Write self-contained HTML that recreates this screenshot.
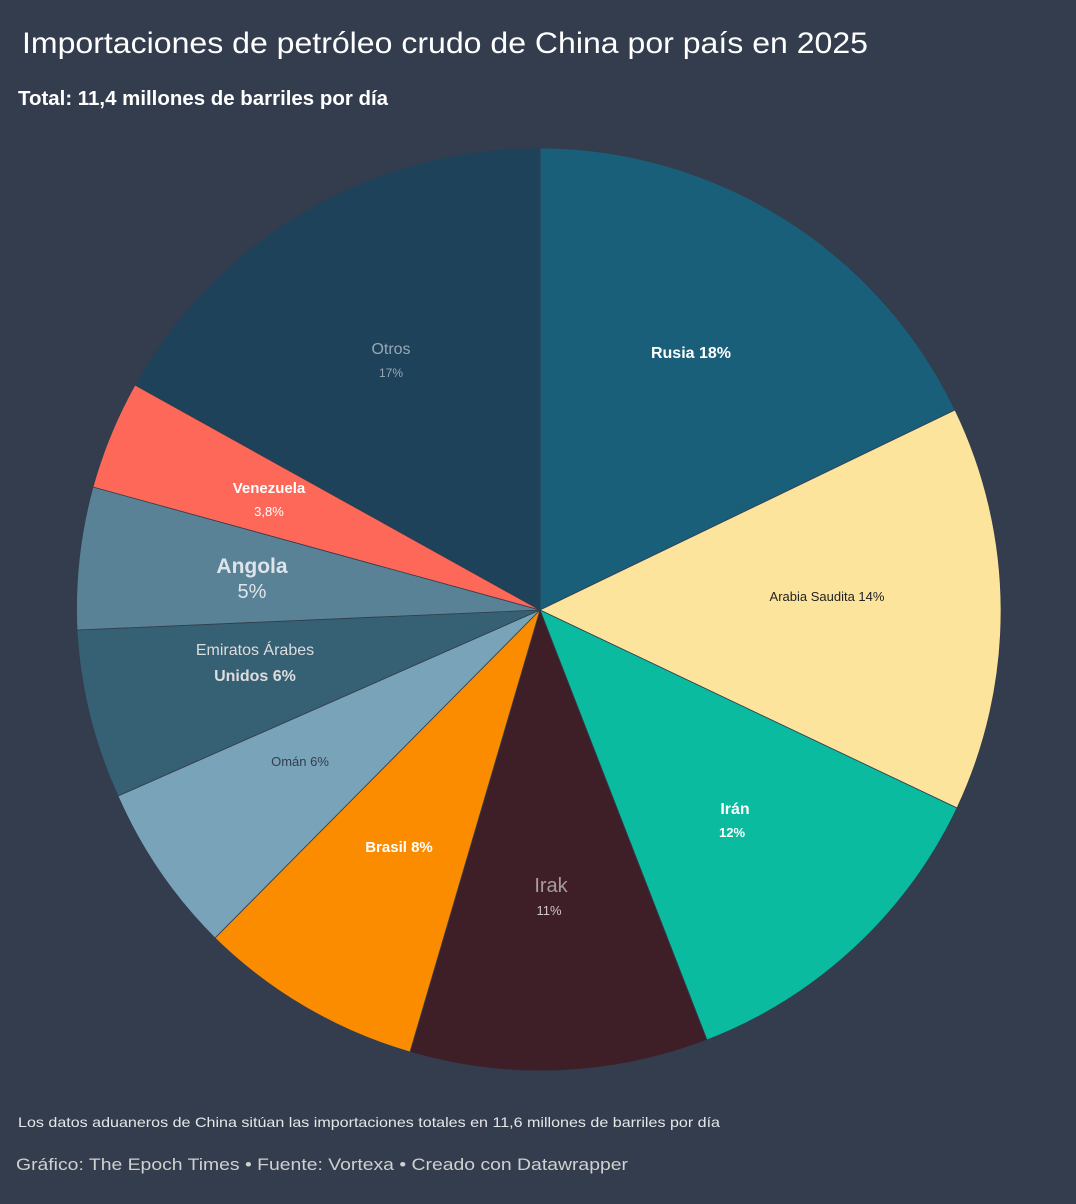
<!DOCTYPE html>
<html><head><meta charset="utf-8"><style>
body{margin:0;background:#333d4e;width:1076px;height:1204px;overflow:hidden;font-family:"Liberation Sans",sans-serif;}
</style></head><body>
<svg width="1076" height="1204" xmlns="http://www.w3.org/2000/svg" style="position:absolute;left:0;top:0">
<rect width="1076" height="1204" fill="#333d4e"/>
<text x="22" y="53" font-size="30" fill="#fff" textLength="846" lengthAdjust="spacingAndGlyphs">Importaciones de petróleo crudo de China por país en 2025</text>
<text x="18" y="105" font-size="20" font-weight="bold" fill="#fff" textLength="370" lengthAdjust="spacingAndGlyphs">Total: 11,4 millones de barriles por día</text>
<g stroke="#333d4e" stroke-width="0.8">
<path d="M540,610 L540,148 A462,462 0 0 1 955,410 Z" fill="#1a5f7a"/>
<path d="M540,610 L955,410 A462,462 0 0 1 957,808 Z" fill="#fde49c"/>
<path d="M540,610 L957,808 A462,462 0 0 1 707,1040 Z" fill="#0abb9f"/>
<path d="M540,610 L707,1040 A462,462 0 0 1 410,1052 Z" fill="#3f1f27"/>
<path d="M540,610 L410,1052 A462,462 0 0 1 215,938 Z" fill="#fb8c00"/>
<path d="M540,610 L215,938 A462,462 0 0 1 118,796 Z" fill="#79a3b8"/>
<path d="M540,610 L118,796 A462,462 0 0 1 77,630 Z" fill="#366073"/>
<path d="M540,610 L77,630 A462,462 0 0 1 93,487 Z" fill="#5a8297"/>
<path d="M540,610 L93,487 A462,462 0 0 1 135,385 Z" fill="#fe6859"/>
<path d="M540,610 L135,385 A462,462 0 0 1 540,148 Z" fill="#1e4259"/>
</g>
<g text-anchor="middle">
<text x="691" y="358" font-size="16" font-weight="bold" fill="#fff">Rusia 18%</text>
<text x="827" y="601" font-size="13" fill="#222">Arabia Saudita 14%</text>
<text x="735" y="814" font-size="16" font-weight="bold" fill="#fff">Irán</text>
<text x="732" y="837" font-size="13" font-weight="bold" fill="#fff">12%</text>
<text x="551" y="892" font-size="20" fill="#a89ca0">Irak</text>
<text x="549" y="915" font-size="13" fill="#cfc6c8">11%</text>
<text x="399" y="852" font-size="15" font-weight="bold" fill="#fff">Brasil 8%</text>
<text x="300" y="766" font-size="13" fill="#333d4e">Omán 6%</text>
<text x="255" y="655" font-size="16" fill="#ddd">Emiratos Árabes</text>
<text x="255" y="681" font-size="16" font-weight="bold" fill="#ddd">Unidos 6%</text>
<text x="252" y="573" font-size="21" font-weight="bold" fill="#dde4ea">Angola</text>
<text x="252" y="598" font-size="20" fill="#dde4ea">5%</text>
<text x="269" y="493" font-size="15" font-weight="bold" fill="#fff">Venezuela</text>
<text x="269" y="516" font-size="13" fill="#fff">3,8%</text>
<text x="391" y="354" font-size="16" fill="#9aa8b6">Otros</text>
<text x="391" y="377" font-size="12" fill="#9aa8b6">17%</text>
</g>
<text x="18" y="1127" font-size="14" fill="#e6e6e6" textLength="702" lengthAdjust="spacingAndGlyphs">Los datos aduaneros de China sitúan las importaciones totales en 11,6 millones de barriles por día</text>
<text x="16" y="1170" font-size="17" fill="#d0d0d0" textLength="612" lengthAdjust="spacingAndGlyphs">Gráfico: The Epoch Times   • Fuente: Vortexa  • Creado con Datawrapper</text>
</svg>
</body></html>
